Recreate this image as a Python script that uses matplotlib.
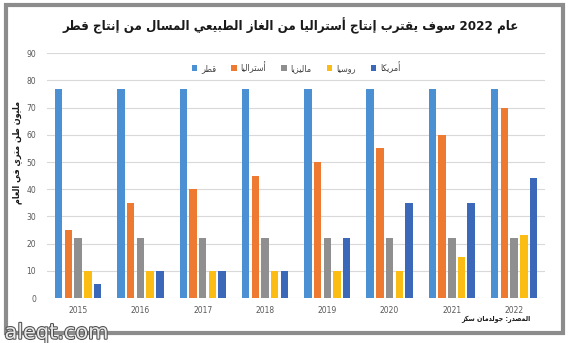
"""LNG output chart: Qatar vs Australia and others, 2015-2022."""

import matplotlib

matplotlib.use("Agg", force=True)
import matplotlib.pyplot as plt
import matplotlib.patheffects as pe
from matplotlib.patches import Rectangle
import numpy as np

years = ["2015", "2016", "2017", "2018", "2019", "2020", "2021", "2022"]
qatar = [77, 77, 77, 77, 77, 77, 77, 77]
australia = [25, 35, 40, 45, 50, 55, 60, 70]
malaysia = [22, 22, 22, 22, 22, 22, 22, 22]
russia = [10, 10, 10, 10, 10, 10, 15, 23]
usa = [5, 10, 10, 10, 22, 35, 35, 44]

series_names = ["قطر", "أستراليا", "ماليزيا", "روسيا", "أمريكا"]
series_colors = ["#4A90D2", "#EE7A32", "#8F8F8F", "#FBBD14", "#3B68B8"]

title = "عام 2022 سوف يقترب إنتاج أستراليا من الغاز الطبيعي المسال من إنتاج قطر"
ylabel = "مليون طن متري في العام"
source = "المصدر: جولدمان سكز"

# --- minimal Arabic shaping (presentation forms B) + RTL ordering ---
# letter -> (isolated form code, number of forms); 2 = right-joining only
_FORMS = {
    "ء": (0xFE80, 1), "آ": (0xFE81, 2), "أ": (0xFE83, 2), "ؤ": (0xFE85, 2),
    "إ": (0xFE87, 2), "ئ": (0xFE89, 4), "ا": (0xFE8D, 2), "ب": (0xFE8F, 4),
    "ة": (0xFE93, 2), "ت": (0xFE95, 4), "ث": (0xFE99, 4), "ج": (0xFE9D, 4),
    "ح": (0xFEA1, 4), "خ": (0xFEA5, 4), "د": (0xFEA9, 2), "ذ": (0xFEAB, 2),
    "ر": (0xFEAD, 2), "ز": (0xFEAF, 2), "س": (0xFEB1, 4), "ش": (0xFEB5, 4),
    "ص": (0xFEB9, 4), "ض": (0xFEBD, 4), "ط": (0xFEC1, 4), "ظ": (0xFEC5, 4),
    "ع": (0xFEC9, 4), "غ": (0xFECD, 4), "ف": (0xFED1, 4), "ق": (0xFED5, 4),
    "ك": (0xFED9, 4), "ل": (0xFEDD, 4), "م": (0xFEE1, 4), "ن": (0xFEE5, 4),
    "ه": (0xFEE9, 4), "و": (0xFEED, 2), "ى": (0xFEEF, 2), "ي": (0xFEF1, 4),
}
_LAM_ALEF = {"آ": 0xFEF5, "أ": 0xFEF7, "إ": 0xFEF9, "ا": 0xFEFB}


def _shape_word(word):
    out = []
    i = 0
    n = len(word)
    while i < n:
        ch = word[i]
        prev = word[i - 1] if i > 0 else ""
        joins_prev = prev in _FORMS and _FORMS[prev][1] == 4 and ch in _FORMS
        if ch == "ل" and i + 1 < n and word[i + 1] in _LAM_ALEF:
            code = _LAM_ALEF[word[i + 1]] + (1 if joins_prev else 0)
            out.append(chr(code))
            i += 2
            continue
        if ch not in _FORMS:
            out.append(ch)
            i += 1
            continue
        base, nforms = _FORMS[ch]
        nxt = word[i + 1] if i + 1 < n else ""
        joins_next = nforms == 4 and nxt in _FORMS
        if nforms == 1:
            code = base
        elif joins_prev and joins_next:
            code = base + 3
        elif joins_prev:
            code = base + 1
        elif joins_next:
            code = base + 2
        else:
            code = base
        out.append(chr(code))
        i += 1
    return "".join(out)


def ar(text):
    words = []
    for w in text.split(" "):
        if any(c in _FORMS for c in w):
            words.append(_shape_word(w)[::-1])
        else:
            words.append(w)
    return " ".join(words[::-1])


plt.rcParams["font.family"] = ["DejaVu Sans"]

fig = plt.figure(figsize=(5.7, 3.43), dpi=100)
fig.patch.set_facecolor("white")
ax = fig.add_axes([0.0825, 0.131, 0.874, 0.714])

x = np.arange(len(years))
width = 0.12
step = 0.156
all_series = [qatar, australia, malaysia, russia, usa]
for k, (vals, name, color) in enumerate(zip(all_series, series_names, series_colors)):
    ax.bar(x + (k - 2) * step, vals, width=width, color=color, label=ar(name), zorder=3)

ax.set_xlim(-0.5, len(years) - 0.5)
ax.set_ylim(0, 90)
ax.set_yticks(np.arange(0, 91, 10))
ax.set_xticks(x)
ax.set_xticklabels(years)
ax.tick_params(axis="both", length=0, labelsize=5.5, labelcolor="#595959")
ax.tick_params(axis="y", pad=8)
ax.tick_params(axis="x", pad=6)
ax.grid(axis="y", color="#D9D9D9", linewidth=0.8, zorder=0)
for s in ax.spines.values():
    s.set_visible(False)

ax.legend(loc="center", bbox_to_anchor=(0.50, 0.943), ncol=5, frameon=False,
          prop={"size": 6.5, "stretch": "condensed"}, handlelength=0.6,
          handleheight=0.6, handletextpad=0.4, columnspacing=1.7,
          labelcolor="#404040")

fig.text(0.51, 0.926, ar(title), ha="center", va="center", fontsize=9.5,
         fontweight="bold", fontstretch="condensed", color="#1a1a1a")
fig.text(0.03, 0.555, ar(ylabel), rotation=90, ha="center", va="center",
         fontsize=6.5, fontweight="bold", fontstretch="condensed", color="#1a1a1a")
fig.text(0.93, 0.068, ar(source), ha="right", va="center", fontsize=5,
         fontweight="bold", fontstretch="condensed", color="#1a1a1a")

fig.add_artist(Rectangle((0.0105, 0.029), 0.978, 0.956, transform=fig.transFigure,
                         fill=False, edgecolor="#8C8C8C", linewidth=3))

fig.text(0.008, 0.03, "aleqt.com", ha="left", va="center", fontsize=15,
         color="#E8E8E8",
         path_effects=[pe.withStroke(linewidth=1.5, foreground="#505050")])

fig.savefig("out.png", dpi=100)
